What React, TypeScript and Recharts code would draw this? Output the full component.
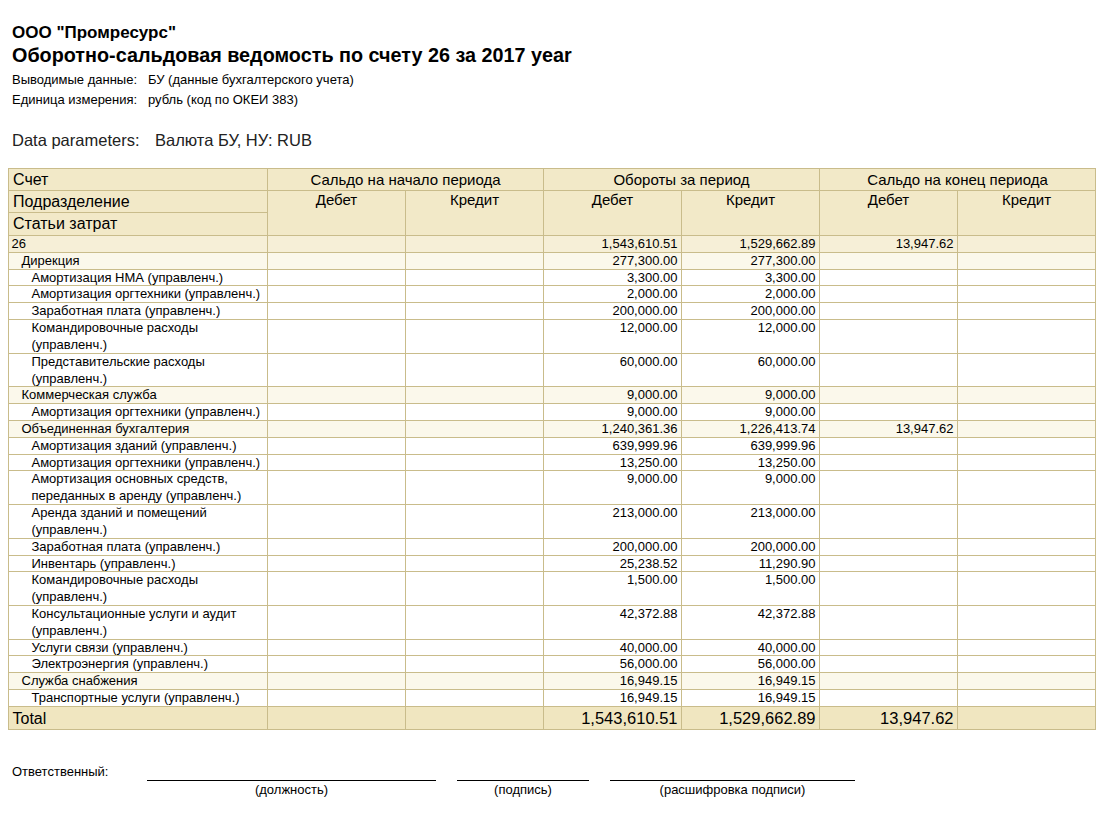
import React from 'react';
import { ScatterChart, Scatter, XAxis, YAxis } from 'recharts';

// ---- данные ведомости ----
const colKeys = ['openDt', 'openCt', 'turnDt', 'turnCt', 'closeDt', 'closeCt'];
const groupHeaders = ['Сальдо на начало периода', 'Обороты за период', 'Сальдо на конец периода'];
const sideHeaders = ['Дебет', 'Кредит'];
const rowHeaderLabels = ['Счет', 'Подразделение', 'Статьи затрат'];

const rowLabels = [
  '26',
  'Дирекция',
  'Амортизация НМА (управленч.)',
  'Амортизация оргтехники (управленч.)',
  'Заработная плата (управленч.)',
  'Командировочные расходы\n(управленч.)',
  'Представительские расходы\n(управленч.)',
  'Коммерческая служба',
  'Амортизация оргтехники (управленч.)',
  'Объединенная бухгалтерия',
  'Амортизация зданий (управленч.)',
  'Амортизация оргтехники (управленч.)',
  'Амортизация основных средств,\nпереданных в аренду (управленч.)',
  'Аренда зданий и помещений\n(управленч.)',
  'Заработная плата (управленч.)',
  'Инвентарь (управленч.)',
  'Командировочные расходы\n(управленч.)',
  'Консультационные услуги и аудит\n(управленч.)',
  'Услуги связи (управленч.)',
  'Электроэнергия (управленч.)',
  'Служба снабжения',
  'Транспортные услуги (управленч.)',
];
const rowLevels = [0, 1, 2, 2, 2, 2, 2, 1, 2, 1, 2, 2, 2, 2, 2, 2, 2, 2, 2, 2, 1, 2];

const openingDebit: (number | null)[] = rowLabels.map(() => null);
const openingCredit: (number | null)[] = rowLabels.map(() => null);
const turnoverDebit = [
  1543610.51, 277300.0, 3300.0, 2000.0, 200000.0, 12000.0, 60000.0, 9000.0, 9000.0,
  1240361.36, 639999.96, 13250.0, 9000.0, 213000.0, 200000.0, 25238.52, 1500.0,
  42372.88, 40000.0, 56000.0, 16949.15, 16949.15,
];
const turnoverCredit = [
  1529662.89, 277300.0, 3300.0, 2000.0, 200000.0, 12000.0, 60000.0, 9000.0, 9000.0,
  1226413.74, 639999.96, 13250.0, 9000.0, 213000.0, 200000.0, 11290.9, 1500.0,
  42372.88, 40000.0, 56000.0, 16949.15, 16949.15,
];
const closingDebit: (number | null)[] = [
  13947.62, null, null, null, null, null, null, null, null,
  13947.62, null, null, null, null, null, null, null,
  null, null, null, null, null,
];
const closingCredit: (number | null)[] = rowLabels.map(() => null);

const totalLabel = 'Total';
const totalValues: (number | null)[] = [null, null, 1543610.51, 1529662.89, 13947.62, null];

// ---- оформление ----
const FONT = '"Liberation Sans", Arial, sans-serif';
const BORDER = '#c9bc8b';
const HEAD_BG = '#f2e9c8';
const ACCOUNT_BG = '#f6efd7';
const GROUP_BG = '#fbf8eb';
const TOTAL_BG = '#f0e6c0';

const TABLE_X = 8;
const BODY_TOP = 235;
const LABEL_W = 259;
const COL_W = 138;
const CHART_W = LABEL_W + COL_W * colKeys.length;
const CHART_H = 494;
const TOTAL_SPAN = 1.37; // строка итогов выше обычной
const INDENT = [3, 13, 23];

const fmt = (v: number | null) => {
  if (v === null || v === undefined) return '';
  const [i, d] = v.toFixed(2).split('.');
  return i.replace(/\B(?=(\d{3})+(?!\d))/g, ',') + '.' + d;
};

interface Row {
  label: string;
  lines: string[];
  level: number;
  kind: 'account' | 'group' | 'item' | 'total';
  start: number;
  span: number;
  center: number;
  values: (number | null)[];
}

const rows: Row[] = [];
let cursor = 0;
rowLabels.forEach((label, i) => {
  const lines = label.split('\n');
  const level = rowLevels[i];
  rows.push({
    label,
    lines,
    level,
    kind: level === 0 ? 'account' : level === 1 ? 'group' : 'item',
    start: cursor,
    span: lines.length,
    center: cursor + lines.length / 2,
    values: [openingDebit[i], openingCredit[i], turnoverDebit[i], turnoverCredit[i], closingDebit[i], closingCredit[i]],
  });
  cursor += lines.length;
});
rows.push({
  label: totalLabel,
  lines: [totalLabel],
  level: 0,
  kind: 'total',
  start: cursor,
  span: TOTAL_SPAN,
  center: cursor + TOTAL_SPAN / 2,
  values: totalValues,
});
const SPAN_TOTAL = cursor + TOTAL_SPAN;
const LINE_H = CHART_H / SPAN_TOTAL;

const bgOf = (kind: Row['kind']) =>
  kind === 'account' ? ACCOUNT_BG : kind === 'group' ? GROUP_BG : kind === 'total' ? TOTAL_BG : '#ffffff';

const cellPoints = rows.flatMap((r, rowIdx) =>
  colKeys.map((col, c) => ({ col, y: r.center, rowIdx, value: r.values[c] }))
);

const rowBox = (row: Row, cy: number) => {
  const h = row.span * LINE_H;
  const top = Math.round(cy - h / 2) + 0.5;
  const bottom = Math.round(cy + h / 2) + 0.5;
  return { top, height: bottom - top };
};

const LabelTick = (props: any) => {
  const { x, y, index, payload } = props;
  let idx = typeof index === 'number' ? index : -1;
  if (idx < 0 || !rows[idx]) idx = rows.findIndex((r) => Math.abs(r.center - payload.value) < 1e-6);
  const row = rows[idx];
  if (!row) return null;
  const { top, height } = rowBox(row, y);
  const left = Math.round(x - LABEL_W) + 0.5;
  const isTotal = row.kind === 'total';
  return (
    <g>
      <rect x={left} y={top} width={LABEL_W} height={height} fill={bgOf(row.kind)} stroke={BORDER} />
      {row.lines.map((t, k) => (
        <text
          key={k}
          x={left + (isTotal ? 4 : INDENT[row.level])}
          y={top + (isTotal ? 17 : 12.5) + k * 16.5}
          fontSize={isTotal ? 16 : 13}
          fontFamily={FONT}
          fill="#000"
          textAnchor="start"
        >
          {t}
        </text>
      ))}
    </g>
  );
};

const ValueCell = (props: any) => {
  const { cx, cy, payload } = props;
  const row = rows[payload.rowIdx];
  const { top, height } = rowBox(row, cy);
  const left = Math.round(cx - COL_W / 2) + 0.5;
  const isTotal = row.kind === 'total';
  return (
    <g>
      <rect x={left} y={top} width={COL_W} height={height} fill={bgOf(row.kind)} stroke={BORDER} />
      {payload.value !== null && (
        <text
          x={left + COL_W - 4}
          y={top + (isTotal ? 17 : 12.5)}
          fontSize={isTotal ? 16.5 : 13}
          fontFamily={FONT}
          fill="#000"
          textAnchor="end"
        >
          {fmt(payload.value)}
        </text>
      )}
    </g>
  );
};

const HeadCell = ({ x, y, w, h, children, style }: any) => (
  <div
    style={{
      position: 'absolute',
      left: x,
      top: y,
      width: w + 1,
      height: h + 1,
      boxSizing: 'border-box',
      border: `1px solid ${BORDER}`,
      background: HEAD_BG,
      ...style,
    }}
  >
    {children}
  </div>
);

const abs = (x: number, y: number, style: React.CSSProperties = {}): React.CSSProperties => ({
  position: 'absolute',
  left: x,
  top: y,
  whiteSpace: 'nowrap',
  ...style,
});

export default function App() {
  const headRowsY = [168, 190, 212];
  const headRowsH = [22, 22, 23];
  return (
    <div
      style={{
        position: 'absolute',
        left: 0,
        top: 0,
        width: 1103,
        height: 823,
        background: '#fff',
        fontFamily: FONT,
        color: '#000',
      }}
    >
      <div style={abs(12, 23, { fontSize: 17, fontWeight: 'bold', lineHeight: '20px' })}>ООО "Промресурс"</div>
      <div style={abs(12, 43, { fontSize: 19.8, fontWeight: 'bold', lineHeight: '24px' })}>
        Оборотно-сальдовая ведомость по счету 26 за 2017 year
      </div>
      <div style={abs(12, 72, { fontSize: 13, lineHeight: '16px' })}>Выводимые данные:</div>
      <div style={abs(148, 72, { fontSize: 13, lineHeight: '16px' })}>БУ (данные бухгалтерского учета)</div>
      <div style={abs(12, 92, { fontSize: 13, lineHeight: '16px' })}>Единица измерения:</div>
      <div style={abs(148, 92, { fontSize: 13, lineHeight: '16px' })}>рубль (код по ОКЕИ 383)</div>
      <div style={abs(12, 130, { fontSize: 16.5, lineHeight: '20px', color: '#222' })}>Data parameters:</div>
      <div style={abs(155, 130, { fontSize: 16.5, lineHeight: '20px', color: '#222' })}>Валюта БУ, НУ: RUB</div>

      {/* шапка таблицы */}
      {rowHeaderLabels.map((t, i) => (
        <HeadCell key={t} x={TABLE_X} y={headRowsY[i]} w={LABEL_W} h={headRowsH[i]}
          style={{ fontSize: 16, lineHeight: `${headRowsH[i] - 1}px`, paddingLeft: 4 }}>
          {t}
        </HeadCell>
      ))}
      {groupHeaders.map((t, g) => (
        <HeadCell key={t} x={TABLE_X + LABEL_W + g * COL_W * 2} y={168} w={COL_W * 2} h={22}
          style={{ fontSize: 15, lineHeight: '21px', textAlign: 'center' }}>
          {t}
        </HeadCell>
      ))}
      {colKeys.map((k, c) => (
        <HeadCell key={k} x={TABLE_X + LABEL_W + c * COL_W} y={190} w={COL_W} h={45}
          style={{ fontSize: 15, lineHeight: '18px', textAlign: 'center' }}>
          {sideHeaders[c % 2]}
        </HeadCell>
      ))}

      {/* тело таблицы */}
      <div style={{ position: 'absolute', left: TABLE_X, top: BODY_TOP }}>
        <ScatterChart width={CHART_W + 1} height={CHART_H + 1} margin={{ top: 0, right: 1, bottom: 1, left: 0 }}>
          <XAxis type="category" dataKey="col" allowDuplicatedCategory={false} hide />
          <YAxis
            type="number"
            dataKey="y"
            domain={[0, SPAN_TOTAL]}
            reversed
            ticks={rows.map((r) => r.center)}
            interval={0}
            width={LABEL_W}
            axisLine={false}
            tickLine={false}
            tickSize={0}
            tickMargin={0}
            tick={(p: any) => <LabelTick {...p} />}
          />
          <Scatter data={cellPoints} shape={(p: any) => <ValueCell {...p} />} isAnimationActive={false} />
        </ScatterChart>
      </div>

      {/* подписи */}
      <div style={abs(12, 764, { fontSize: 13, lineHeight: '15px' })}>Ответственный:</div>
      <div style={abs(147, 780, { width: 289, borderTop: '1px solid #000' })} />
      <div style={abs(457, 780, { width: 132, borderTop: '1px solid #000' })} />
      <div style={abs(610, 780, { width: 245, borderTop: '1px solid #000' })} />
      <div style={abs(147, 782, { width: 289, textAlign: 'center', fontSize: 13, lineHeight: '15px' })}>(должность)</div>
      <div style={abs(457, 782, { width: 132, textAlign: 'center', fontSize: 13, lineHeight: '15px' })}>(подпись)</div>
      <div style={abs(610, 782, { width: 245, textAlign: 'center', fontSize: 13, lineHeight: '15px' })}>(расшифровка подписи)</div>
    </div>
  );
}
